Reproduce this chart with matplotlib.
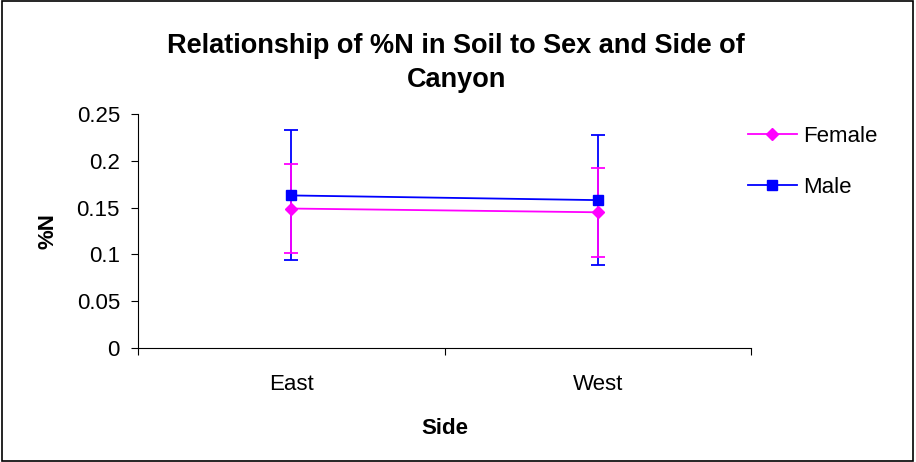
import matplotlib
matplotlib.use("Agg")
import matplotlib.pyplot as plt
from matplotlib.patches import Rectangle

plt.rcParams['font.family'] = ['Liberation Sans', 'DejaVu Sans']

sides = ["East", "West"]
female_mean = [0.149, 0.145]
female_err = [0.0475, 0.0474]
male_mean = [0.163, 0.158]
male_err = [0.0695, 0.0698]
yticks = [0, 0.05, 0.1, 0.15, 0.2, 0.25]
ytick_labels = ["0", "0.05", "0.1", "0.15", "0.2", "0.25"]

MAGENTA = "#FF00FF"
BLUE = "#0000FF"

fig = plt.figure(figsize=(9.16, 4.62), dpi=100)
fig.patches.append(Rectangle((0.002, 0.003), 0.995, 0.994, transform=fig.transFigure,
                             fill=False, edgecolor="black", linewidth=1.2))
ax = fig.add_axes([0.1507, 0.2468, 0.6693, 0.5064])

x = [i + 0.5 for i in range(len(sides))]
# error bars first, then the lines with markers on top
ax.errorbar(x, male_mean, yerr=male_err, fmt="none", ecolor=BLUE, elinewidth=1.3,
            capsize=5, capthick=1.3, zorder=2)
ax.errorbar(x, female_mean, yerr=female_err, fmt="none", ecolor=MAGENTA, elinewidth=1.3,
            capsize=5, capthick=1.3, zorder=2)
ax.plot(x, male_mean, color=BLUE, marker="s", markersize=7, linewidth=1.3, label="Male", zorder=3)
ax.plot(x, female_mean, color=MAGENTA, marker="D", markersize=6.5, linewidth=1.3, label="Female", zorder=4)

ax.set_xlim(0, len(sides))
ax.set_ylim(0, 0.25)
ax.set_xticks(range(len(sides) + 1))
ax.set_xticklabels([])
ax.set_xticks(x, minor=True)
ax.set_xticklabels(sides, minor=True, fontsize=16)
ax.tick_params(axis="x", which="minor", length=0, pad=19)
ax.tick_params(axis="x", which="major", length=5, direction="out")
ax.set_yticks(yticks)
ax.set_yticklabels(ytick_labels, fontsize=16)
ax.tick_params(axis="y", length=5, direction="out", pad=8)
for s in ["top", "right"]:
    ax.spines[s].set_visible(False)

ax.set_xlabel("Side", fontsize=16, fontweight="bold", labelpad=16)
ax.set_ylabel("%N", fontsize=16, fontweight="bold")
ax.yaxis.set_label_coords(-0.13, 0.5)
# baseline alignment anchors the last line ("Canyon")
fig.text(0.498, 0.8117, "Relationship of %N in Soil to Sex and Side of\nCanyon", ha="center",
         va="baseline", fontsize=19.5, fontweight="bold", linespacing=1.4)

handles, labels = ax.get_legend_handles_labels()
ax.legend(handles[::-1], labels[::-1], loc="upper left", bbox_to_anchor=(0.8166, 0.727),
          bbox_transform=fig.transFigure, frameon=False, fontsize=16, borderpad=0,
          borderaxespad=0, handlelength=2.2, handletextpad=0.27, labelspacing=1.35)

fig.savefig("out.png", dpi=100)
